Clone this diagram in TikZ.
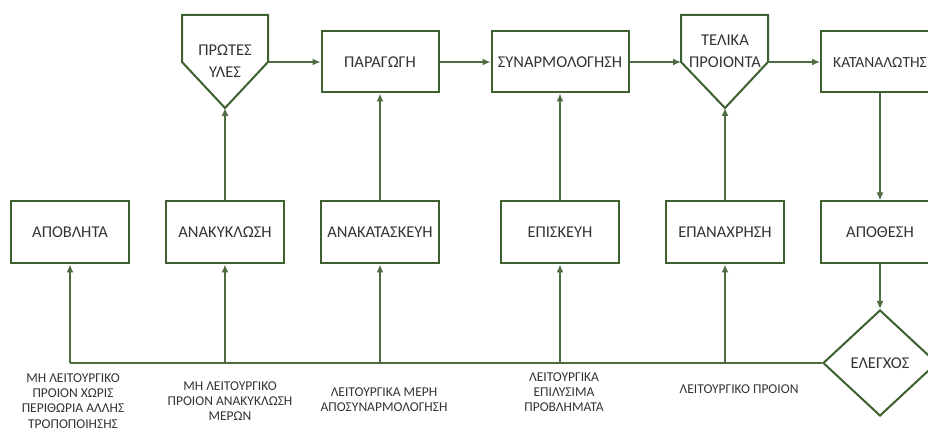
\documentclass[tikz,border=0pt]{standalone}
\usepackage{fontspec}
\setmainfont{Carlito}
\usetikzlibrary{shapes.geometric,arrows.meta}
\definecolor{boxgreen}{HTML}{3E5F2E}
\definecolor{linegreen}{HTML}{4F6B42}
\definecolor{txt}{HTML}{333333}
\begin{document}
\begin{tikzpicture}[x=1pt,y=-1pt,
  box/.style={draw=boxgreen,line width=2pt,minimum width=118pt,minimum height=62pt,inner sep=0pt,font=\fontsize{16.5}{18}\selectfont,text=txt},
  pent/.style={draw=boxgreen,line width=2pt,line join=miter},
  ptext/.style={align=center,font=\fontsize{16.5}{22}\selectfont,text=txt,inner sep=0pt},
  conn/.style={draw=linegreen,line width=1.5pt},
  arr/.style={conn,-{Latex[length=8pt,width=7pt]}},
  lab/.style={align=center,font=\fontsize{13.5}{15.2}\selectfont,text=txt,inner sep=0pt}]
\useasboundingbox (0,0) rectangle (928,435);
\clip (0,0) rectangle (928,435);

% top row
\draw[pent] (182,15) -- (268,15) -- (268,62) -- (225,108) -- (182,62) -- cycle;
\coordinate (pruTip) at (225,108);
\coordinate (pruR) at (268,62);
\node[ptext] (pru) at (225,61) {ΠΡΩΤΕΣ\\ΥΛΕΣ};

\node[box,minimum width=117pt,minimum height=61pt] (parag) at (380,62) {ΠΑΡΑΓΩΓΗ};
\node[box,minimum width=137pt,minimum height=61pt] (synarm) at (560,62) {ΣΥΝΑΡΜΟΛΟΓΗΣΗ};

\draw[pent] (681,15) -- (768,15) -- (768,62) -- (725,108) -- (681,62) -- cycle;
\coordinate (telTip) at (725,108);
\coordinate (telL) at (681,62);
\coordinate (telR) at (768,62);
\node[ptext] (tel) at (725,51) {ΤΕΛΙΚΑ\\ΠΡΟΙΟΝΤΑ};

\node[box,minimum width=118pt,minimum height=61pt,font=\fontsize{15.5}{18}\selectfont] (katan) at (880,62) {ΚΑΤΑΝΑΛΩΤΗΣ};

% middle row
\node[box] (apobl) at (70,232.5) {ΑΠΟΒΛΗΤΑ};
\node[box] (anak) at (225,232.5) {ΑΝΑΚΥΚΛΩΣΗ};
\node[box] (anakat) at (380,232.5) {ΑΝΑΚΑΤΑΣΚΕΥΗ};
\node[box] (episk) at (560,232.5) {ΕΠΙΣΚΕΥΗ};
\node[box] (epan) at (725,232.5) {ΕΠΑΝΑΧΡΗΣΗ};
\node[box] (apoth) at (880,232.5) {ΑΠΟΘΕΣΗ};

% control diamond
\node[diamond,draw=boxgreen,line width=2pt,minimum width=114pt,minimum height=106pt,inner sep=0pt,font=\fontsize{16.5}{18}\selectfont,text=txt] (ctrl) at (880,363) {ΕΛΕΓΧΟΣ};

% bottom line points
\coordinate (b1) at (70,363);
\coordinate (b2) at (225,363);
\coordinate (b3) at (380,363);
\coordinate (b4) at (560,363);
\coordinate (b5) at (725,363);

% connectors top row
\draw[arr] (pruR) -- (parag.west);
\draw[arr] (parag.east) -- (synarm.west);
\draw[arr] (synarm.east) -- (telL);
\draw[arr] (telR) -- (katan.west);

% middle to top
\draw[arr] (anak.north) -- (pruTip);
\draw[arr] (anakat.north) -- (parag.south);
\draw[arr] (episk.north) -- (synarm.south);
\draw[arr] (epan.north) -- (telTip);

% right column
\draw[arr] (katan.south) -- (apoth.north);
\draw[arr] (apoth.south) -- (ctrl.north);

% bottom line
\draw[conn] (b1) -- (ctrl.west);
\draw[arr] (b1) -- (apobl.south);
\draw[arr] (b2) -- (anak.south);
\draw[arr] (b3) -- (anakat.south);
\draw[arr] (b4) -- (episk.south);
\draw[arr] (b5) -- (epan.south);

% labels
\node[lab] (l1) at (73,401) {ΜΗ ΛΕΙΤΟΥΡΓΙΚΟ\\ΠΡΟΙΟΝ ΧΩΡΙΣ\\ΠΕΡΙΘΩΡΙΑ ΑΛΛΗΣ\\ΤΡΟΠΟΠΟΙΗΣΗΣ};
\node[lab] (l2) at (230,401) {ΜΗ ΛΕΙΤΟΥΡΓΙΚΟ\\ΠΡΟΙΟΝ ΑΝΑΚΥΚΛΩΣΗ\\ΜΕΡΩΝ};
\node[lab] (l3) at (384,399.5) {ΛΕΙΤΟΥΡΓΙΚΑ ΜΕΡΗ\\ΑΠΟΣΥΝΑΡΜΟΛΟΓΗΣΗ};
\node[lab] (l4) at (564,392) {ΛΕΙΤΟΥΡΓΙΚΑ\\ΕΠΙΛΥΣΙΜΑ\\ΠΡΟΒΛΗΜΑΤΑ};
\node[lab] (l5) at (739,389) {ΛΕΙΤΟΥΡΓΙΚΟ ΠΡΟΙΟΝ};
\end{tikzpicture}
\end{document}
